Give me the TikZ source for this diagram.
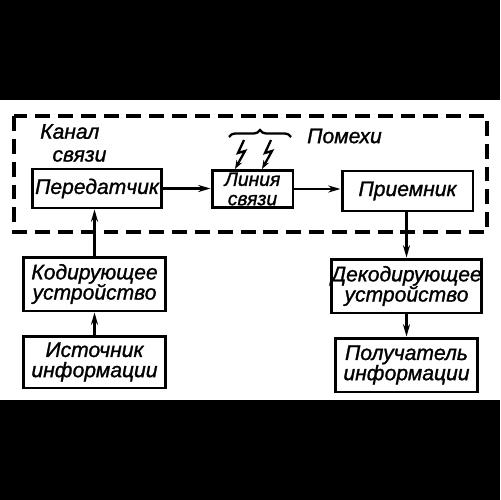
\documentclass[tikz,border=0pt]{standalone}
\usepackage{fontspec}
\setmainfont{Liberation Sans}[ItalicFeatures={FakeBold=1.2}]
\usetikzlibrary{arrows.meta,decorations.pathreplacing}

\begin{document}
\begin{tikzpicture}[x=0.02cm,y=-0.02cm,
  blok/.style={draw,line width=1.7pt,inner sep=0pt,align=center,
    font=\fontsize{12}{11.5}\selectfont\itshape},
  strelka/.style={line width=1.4pt,-{Stealth[length=7pt,width=4pt]}},
  molniya/.style={line width=1.3pt,-{Stealth[length=5pt,width=3.5pt]}},
  tekst/.style={font=\fontsize{12}{13}\selectfont\itshape}]
  \useasboundingbox (0,0) rectangle (500,500);
  \fill[black] (0,0) rectangle (500,100);
  \fill[black] (0,400) rectangle (500,500);
  % channel frame
  \draw[line width=1.9pt,dash pattern=on 8.5pt off 4.5pt]
    (14,116) rectangle (487,232);
  \node[tekst,align=left,anchor=north west] (kanal) at (34,118)
    {Канал\\\hspace*{7pt}связи};
  % top row
  \node[blok,minimum width=2.6cm,minimum height=0.78cm] (peredatchik)
    at (97,188.5) {Передатчик};
  \node[blok,minimum width=1.62cm,minimum height=0.74cm,
    font=\fontsize{11}{11}\selectfont\itshape] (liniya)
    at (252.5,189) {Линия\\связи};
  \node[blok,minimum width=2.62cm,minimum height=0.8cm] (priemnik)
    at (407.5,191) {Приемник};
  % left column
  \node[blok,minimum width=2.86cm,minimum height=1.08cm] (kodir)
    at (94.5,284) {Кодирующее\\устройство};
  \node[blok,minimum width=2.86cm,minimum height=1.04cm] (istochnik)
    at (94.5,362) {Источник\\информации};
  % right column
  \node[blok,minimum width=2.86cm,minimum height=1.08cm] (dekodir)
    at (406.5,286) {Декодирующее\\устройство};
  \node[blok,minimum width=2.86cm,minimum height=1.08cm] (poluchatel)
    at (406.5,365) {Получатель\\информации};
  % connections
  \draw[strelka] (peredatchik.east) -- (peredatchik.east -| liniya.west);
  \draw[strelka] (liniya.east) -- (liniya.east -| priemnik.west);
  \draw[strelka] (istochnik) -- (kodir);
  \draw[strelka] (kodir.north) -- (kodir.north |- peredatchik.south);
  \draw[strelka] (priemnik.south -| dekodir.north) -- (dekodir.north);
  \draw[strelka] (dekodir) -- (poluchatel);
  % noise
  \coordinate (pomeha1) at (244,140);
  \coordinate (pomeha2) at (271,140);
  \draw[molniya] (pomeha1) -- ++(-6,13) -- ++(7,-2)
    -- ([xshift=-0.35cm]liniya.north);
  \draw[molniya] (pomeha2) -- ++(-6,13) -- ++(7,-2)
    -- ([xshift=0.19cm]liniya.north);
  \draw[line width=1.3pt,decorate,decoration={brace,amplitude=4pt}]
    (229,137) -- (291,137);
  \node[tekst,anchor=west] (pomehi) at (301,136) {Помехи};
\end{tikzpicture}
\end{document}
